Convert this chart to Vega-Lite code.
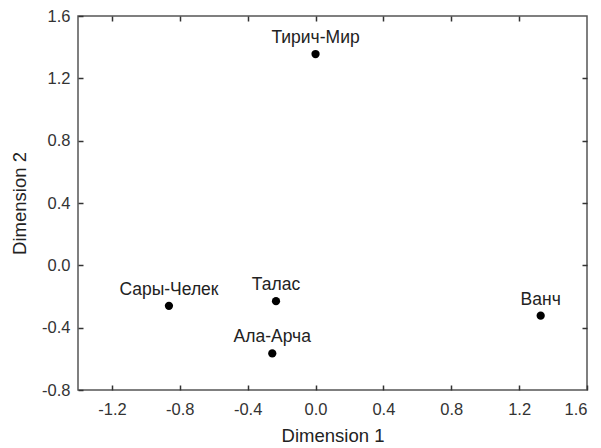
{
  "$schema": "https://vega.github.io/schema/vega-lite/v6.json",
  "width": 509,
  "height": 374,
  "autosize": {"type": "none"},
  "padding": {"left": 78, "top": 16, "right": 14, "bottom": 58},
  "background": "white",
  "config": {
    "font": "Liberation Sans",
    "view": {"stroke": "#555", "strokeWidth": 1.5}
  },
  "data": {
    "values": [
      {"site": "Тирич-Мир", "d1": 0.0, "d2": 1.356},
      {"site": "Сары-Челек", "d1": -0.864, "d2": -0.26},
      {"site": "Талас", "d1": -0.233, "d2": -0.23},
      {"site": "Ала-Арча", "d1": -0.255, "d2": -0.565},
      {"site": "Ванч", "d1": 1.327, "d2": -0.323}
    ]
  },
  "layer": [
    {
      "mark": {"type": "point", "filled": true, "color": "black", "size": 68, "opacity": 1},
      "encoding": {
        "x": {
          "field": "d1", "type": "quantitative",
          "scale": {"domain": [-1.4, 1.6], "nice": false, "zero": false},
          "axis": {
            "orient": "bottom",
            "title": "Dimension 1", "values": [-1.2, -0.8, -0.4, 0, 0.4, 0.8, 1.2, 1.6],
            "labelExpr": "replace(format(datum.value, '.1f'), '\u2212', '-')",
            "grid": false, "domain": false, "tickSize": -5, "tickColor": "#333", "tickWidth": 1.5,
            "labelPadding": 16, "labelFontSize": 16.5, "labelColor": "#333",
            "titleFontSize": 18.5, "titleFontWeight": "normal", "titleColor": "#222", "titlePadding": 9
          }
        },
        "y": {
          "field": "d2", "type": "quantitative",
          "scale": {"domain": [-0.8, 1.6], "nice": false, "zero": false},
          "axis": {
            "orient": "left",
            "title": "Dimension 2", "values": [-0.8, -0.4, 0, 0.4, 0.8, 1.2, 1.6],
            "labelExpr": "replace(format(datum.value, '.1f'), '\u2212', '-')",
            "grid": false, "domain": false, "tickSize": -5, "tickColor": "#333", "tickWidth": 1.5,
            "labelPadding": 13, "labelFontSize": 16.5, "labelColor": "#333",
            "titleFontSize": 18.5, "titleFontWeight": "normal", "titleColor": "#222", "titlePadding": 12
          }
        }
      }
    },
    {
      "mark": {"type": "text", "dy": -16, "fontSize": 17.5, "color": "#222"},
      "encoding": {
        "x": {"field": "d1", "type": "quantitative", "scale": {"domain": [-1.4, 1.6], "nice": false, "zero": false}, "axis": null},
        "y": {"field": "d2", "type": "quantitative", "scale": {"domain": [-0.8, 1.6], "nice": false, "zero": false}, "axis": null},
        "text": {"field": "site"}
      }
    },
    {
      "mark": {"type": "point", "opacity": 0},
      "encoding": {
        "x": {"field": "d1", "type": "quantitative", "scale": {"domain": [-1.4, 1.6], "nice": false, "zero": false}, "axis": {"orient": "top", "values": [-1.2, -0.8, -0.4, 0, 0.4, 0.8, 1.2], "labels": false, "title": null, "grid": false, "domain": false, "tickSize": -5, "tickColor": "#333", "tickWidth": 1.5}},
        "y": {"field": "d2", "type": "quantitative", "scale": {"domain": [-0.8, 1.6], "nice": false, "zero": false}, "axis": {"orient": "right", "values": [-0.4, 0, 0.4, 0.8, 1.2], "labels": false, "title": null, "grid": false, "domain": false, "tickSize": -5, "tickColor": "#333", "tickWidth": 1.5}}
      }
    }
  ],
  "resolve": {"axis": {"x": "independent", "y": "independent"}}
}
